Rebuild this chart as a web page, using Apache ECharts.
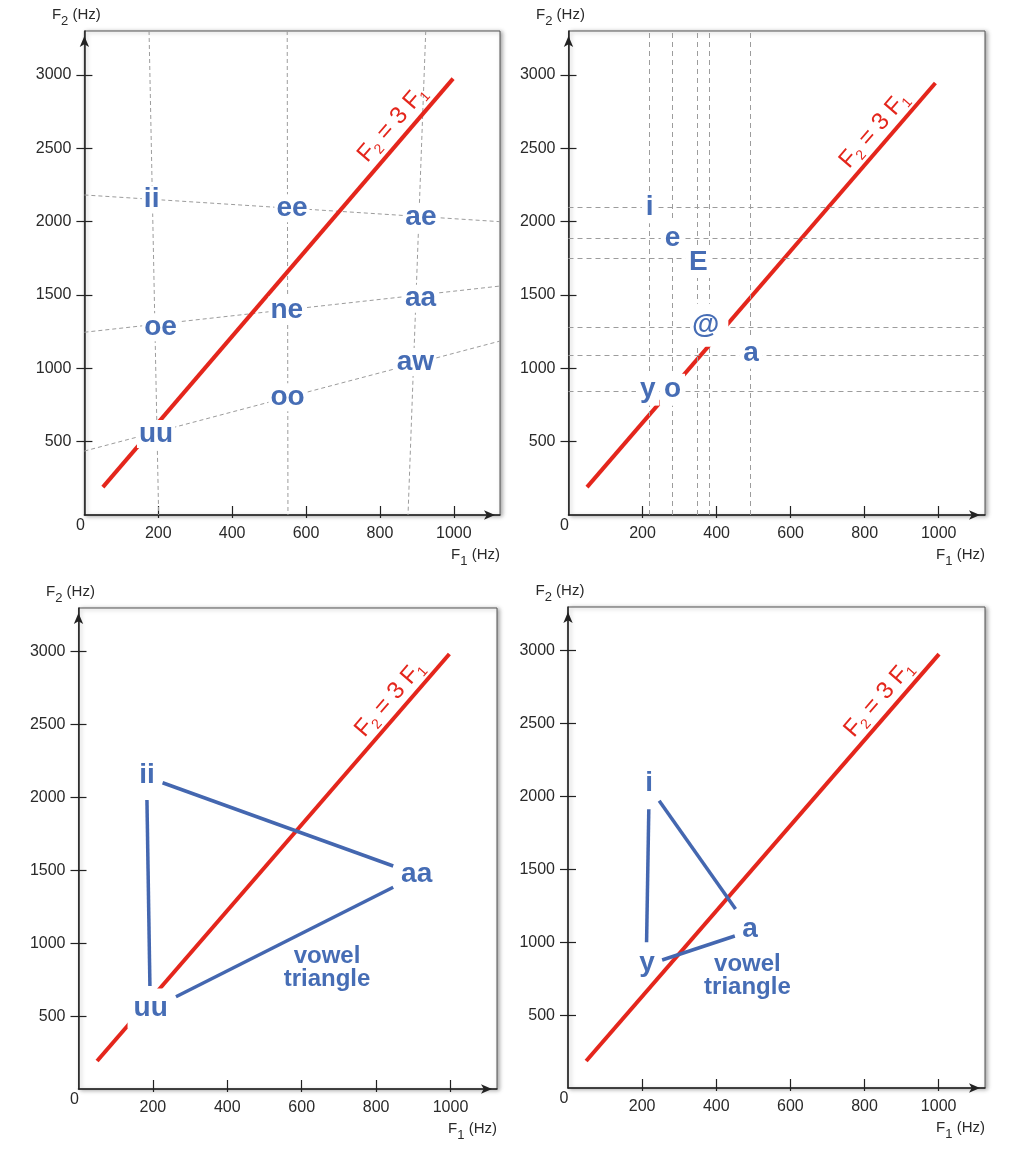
<!DOCTYPE html>
<html><head><meta charset="utf-8">
<script src="https://cdn.jsdelivr.net/npm/echarts@6/dist/echarts.min.js"></script>
<style>html,body{margin:0;padding:0;background:#fff}#c{width:1009px;height:1149px}</style>
</head><body><div id="c"></div>
<script>
// ---------- data (Hz) ----------
const xTicks = [200, 400, 600, 800, 1000];
const yTicks = [500, 1000, 1500, 2000, 2500, 3000];
const xZero = [0];
const xMax = 1125, yMax = 3300;

// F2 = 3 F1 reference line, per panel (as drawn)
const redLine1 = [[50, 190], [998, 2975]];
const redLine2 = [[50, 190], [991, 2945]];
const redLine3 = [[50, 192], [997, 2984]];
const redLine4 = [[49, 185], [1001, 2977]];
const redLabel1 = [834, 2666];
const redLabel2 = [826, 2625];
const redLabel3 = [837, 2676];
const redLabel4 = [839, 2669];

// panel 1 : vowels and slanted guide lines
const vowels1 = ['ii', 'ee', 'ae', 'oe', 'ne', 'aa', 'uu', 'oo', 'aw'];
const vowels1F1 = [182, 562, 911, 206, 548, 910, 194, 550, 896];
const vowels1F2 = [2151, 2091, 2030, 1280, 1394, 1475, 552, 803, 1043];
const guides1 = [
  [[175, 3300], [201, 0]],
  [[549, 3300], [551, 0]],
  [[924, 3300], [876, 0]],
  [[0, 2182], [1125, 2000]],
  [[0, 1246], [1125, 1561]],
  [[0, 436], [1125, 1186]]
];

// panel 2 : vowels and straight guide lines
const vowels2 = ['i', 'e', 'E', '@', 'a', 'y', 'o'];
const vowels2F1 = [219, 281, 351, 380, 493, 214, 281];
const vowels2F2 = [2098, 1889, 1725, 1293, 1106, 855, 854];
const vLines2 = [218, 280, 348, 381, 492];
const hLines2 = [2095, 1887, 1748, 1280, 1091, 847];

// panel 3 : vowel triangle
const vowels3 = ['ii', 'aa', 'uu'];
const vowels3F1 = [184, 909, 194];
const vowels3F2 = [2150, 1475, 552];
const triangle3 = [
  [[184, 1983], [192, 707]],
  [[226, 2101], [846, 1530]],
  [[262, 633], [846, 1384]]
];
const caption3 = [668, 830];

// panel 4 : vowel triangle
const vowels4 = ['i', 'a', 'y'];
const vowels4F1 = [219, 491, 213];
const vowels4F2 = [2092, 1087, 858];
const triangle4 = [
  [[218, 1912], [212, 1000]],
  [[246, 1971], [452, 1228]],
  [[254, 878], [450, 1043]]
];
const caption4 = [484, 770];

// ---------- styling ----------
const FONT = '"Liberation Sans", Arial, Helvetica, sans-serif';
const TXT = '#2a2a2a';
const AXC = '#222';
const BLUE_TEXT = '#466db5';
const BLUE_LINE = '#4467b0';
const RED = '#e4261c';
const GUIDE = '#9c9c9c';

const grids = [
  {left: 84.4, top: 31, width: 415.6, height: 484},
  {left: 568.5, top: 31, width: 416.5, height: 484},
  {left: 78.5, top: 608, width: 418.5, height: 481},
  {left: 568, top: 607, width: 417, height: 481}
];
const labelPad = [[0, 2], [2, 4], [6, 6], [0, 0]];
const labelBg = ['#fff', '#fff', '#fff', 'transparent'];
const padOverride2 = {'@': [2, 9, 13, 2]};
const plain = v => String(v);

const xAxes = [], yAxes = [];
grids.forEach((g, i) => {
  xAxes.push({
    type: 'value', gridIndex: i, min: 0, max: xMax, position: 'bottom',
    axisLine: {show: true, lineStyle: {color: AXC, width: 1.5}, symbol: ['none', 'arrow'], symbolSize: [7, 11], symbolOffset: [0, -5]},
    axisTick: {show: true, inside: true, length: 9, customValues: xTicks, lineStyle: {color: AXC, width: 1.2}},
    axisLabel: {show: true, customValues: xTicks, formatter: plain, margin: 11, fontSize: 16, color: TXT, fontFamily: FONT},
    splitLine: {show: false},
    name: 'F{s|1} (Hz)', nameLocation: 'end', nameGap: 0,
    nameTextStyle: {fontSize: 15, color: TXT, fontFamily: FONT, align: 'right', verticalAlign: 'middle', padding: [80, 0, 0, 0],
      rich: {s: {fontSize: 13, color: TXT, fontFamily: FONT, padding: [13, 0, 0, 0]}}}
  });
  xAxes.push({
    type: 'value', gridIndex: i, min: 0, max: xMax, position: 'bottom', offset: 0,
    axisLine: {show: false},
    axisTick: {show: true, inside: false, length: 3, customValues: xTicks, lineStyle: {color: AXC, width: 1.2}},
    axisLabel: {show: true, customValues: xZero, formatter: plain, margin: 3, fontSize: 16, color: TXT, fontFamily: FONT, padding: [0, 8, 0, 0]},
    splitLine: {show: false}
  });
  yAxes.push({
    type: 'value', gridIndex: i, min: 0, max: yMax, position: 'left',
    axisLine: {show: true, lineStyle: {color: AXC, width: 1.5}, symbol: ['none', 'arrow'], symbolSize: [7, 11], symbolOffset: [0, -5]},
    axisTick: {show: true, inside: false, length: 8, customValues: yTicks, lineStyle: {color: AXC, width: 1.2}},
    axisLabel: {show: true, customValues: yTicks, formatter: plain, margin: 13, fontSize: 16, color: TXT, fontFamily: FONT},
    splitLine: {show: false},
    name: 'F{s|2} (Hz)', nameLocation: 'end', nameGap: 3,
    nameTextStyle: {fontSize: 15, color: TXT, fontFamily: FONT, align: 'center', verticalAlign: 'bottom', padding: [0, 16, 0, 0],
      rich: {s: {fontSize: 13, color: TXT, fontFamily: FONT, padding: [13, 0, 0, 0]}}}
  });
  yAxes.push({
    type: 'value', gridIndex: i, min: 0, max: yMax, position: 'left', offset: 0,
    axisLine: {show: false},
    axisTick: {show: true, inside: true, length: 8, customValues: yTicks, lineStyle: {color: AXC, width: 1.2}},
    axisLabel: {show: false},
    splitLine: {show: false}
  });
});

const series = [];
const solidItem = {opacity: 1, color: 'rgba(0,0,0,0)'};
function seg(g, pts, lineStyle, z) {
  series.push({type: 'line', xAxisIndex: 2 * g, yAxisIndex: 2 * g, data: pts, symbol: 'none',
    silent: true, lineStyle: lineStyle, z: z, animation: false});
}
function redLabel(g, pos) {
  series.push({type: 'scatter', xAxisIndex: 2 * g, yAxisIndex: 2 * g, symbolSize: 0, silent: true, z: 6,
    itemStyle: solidItem,
    data: [{name: 'F2 = 3 F1', value: pos}],
    label: {show: true, position: 'inside', rotate: 49, formatter: 'F{s|2} = 3 F{s|1}', opacity: 1,
      fontSize: 24, color: RED, fontFamily: FONT,
      rich: {s: {fontSize: 14, color: RED, fontFamily: FONT, padding: [14, 0, 0, 0]}}}});
}
function vowelLabels(g, names, f1, f2, override) {
  series.push({type: 'scatter', xAxisIndex: 2 * g, yAxisIndex: 2 * g, symbolSize: 0, silent: true, z: 5,
    itemStyle: solidItem,
    data: names.map((n, i) => {
      const item = {name: n, value: [f1[i], f2[i]]};
      if (override && override[n]) item.label = {padding: override[n]};
      return item;
    }),
    label: {show: true, position: 'inside', formatter: '{b}', fontSize: 28, fontWeight: 'bold', opacity: 1,
      color: BLUE_TEXT, fontFamily: FONT, backgroundColor: labelBg[g], padding: labelPad[g]}});
}
function caption(g, pos) {
  series.push({type: 'scatter', xAxisIndex: 2 * g, yAxisIndex: 2 * g, symbolSize: 0, silent: true, z: 5,
    itemStyle: solidItem,
    data: [{name: 'vowel\ntriangle', value: pos}],
    label: {show: true, position: 'inside', formatter: '{b}', fontSize: 24, fontWeight: 'bold', lineHeight: 23, opacity: 1,
      align: 'center', color: BLUE_TEXT, fontFamily: FONT}});
}

const guideStyle = {color: GUIDE, width: 1, type: [4, 3]};
const redStyle = {color: RED, width: 4};
const blueStyle = {color: BLUE_LINE, width: 3.5};

// panel 1
guides1.forEach(p => seg(0, p, guideStyle, 1));
seg(0, redLine1, redStyle, 3);
redLabel(0, redLabel1);
vowelLabels(0, vowels1, vowels1F1, vowels1F2);

// panel 2
series.push({type: 'line', xAxisIndex: 2, yAxisIndex: 2, data: [], silent: true, z: 1,
  markLine: {silent: true, symbol: ['none', 'none'], label: {show: false}, animation: false,
    lineStyle: {color: GUIDE, width: 1, type: [5, 4]},
    data: vLines2.map(v => ({xAxis: v})).concat(hLines2.map(v => ({yAxis: v})))}});
seg(1, redLine2, redStyle, 3);
redLabel(1, redLabel2);
vowelLabels(1, vowels2, vowels2F1, vowels2F2, padOverride2);

// panel 3
seg(2, redLine3, redStyle, 3);
triangle3.forEach(p => seg(2, p, blueStyle, 4));
redLabel(2, redLabel3);
vowelLabels(2, vowels3, vowels3F1, vowels3F2);
caption(2, caption3);

// panel 4
seg(3, redLine4, redStyle, 3);
triangle4.forEach(p => seg(3, p, blueStyle, 4));
redLabel(3, redLabel4);
vowelLabels(3, vowels4, vowels4F1, vowels4F2);
caption(3, caption4);

const chart = echarts.init(document.getElementById('c'), null, {renderer: 'canvas'});
chart.setOption({
  animation: false,
  backgroundColor: '#fff',
  textStyle: {fontFamily: FONT},
  grid: grids.map(g => Object.assign({show: true, backgroundColor: '#fff', borderColor: '#555', borderWidth: 1,
    shadowColor: 'rgba(0,0,0,0.35)', shadowBlur: 4, shadowOffsetX: 2, shadowOffsetY: 1, containLabel: false}, g)),
  xAxis: xAxes,
  yAxis: yAxes,
  series: series
});
</script>
</body></html>
